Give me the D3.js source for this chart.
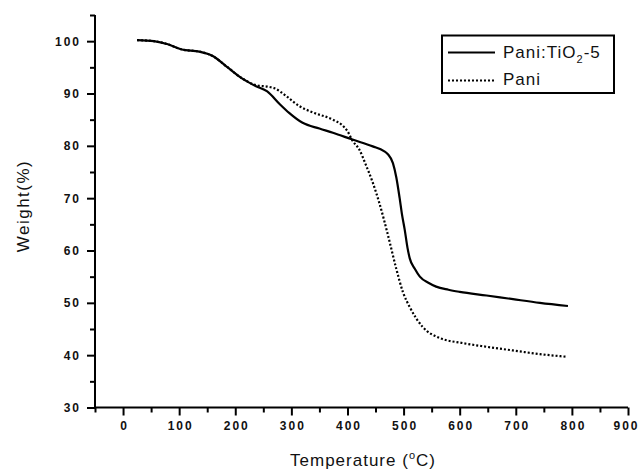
<!DOCTYPE html>
<html><head><meta charset="utf-8">
<script src="https://cdn.jsdelivr.net/npm/d3@7"></script>
<style>body{margin:0;background:#fff}svg{display:block}</style>
</head><body>
<svg id="c" width="640" height="469"></svg>
<script>
const seriesNames = ["Pani:TiO2-5", "Pani"];
const tempTiO2 = [25,55,80,105,136,159,184,212,237,257,279,296,320,350,374,409,445,465,472,481,487,493,497,502,507,511,520,529,545,558,580,600,648,695,743,793];
const weightTiO2 = [100.2,100,99.4,98.4,98.0,97.2,95.2,92.9,91.4,90.4,88.0,86.3,84.4,83.3,82.5,81.2,79.9,79.0,78.4,76.7,74.0,70.0,67.0,64.0,60.5,58.5,56.5,55.0,53.8,53.1,52.5,52.1,51.4,50.7,50.0,49.4];
const tempPani = [25,55,80,105,136,159,184,212,237,258,270,291,314,338,374,390,400,409,421,433,445,457,472,487,499,511,534,564,606,648,695,743,790];
const weightPani = [100.2,100,99.4,98.4,98.0,97.2,95.2,92.9,91.6,91.3,91.0,89.5,87.6,86.4,85.0,84.0,82.8,81.0,79.3,76.3,73.0,69.0,63.0,56.5,52.0,49.2,45.4,43.3,42.3,41.6,40.9,40.2,39.7];
const xTicks = [0,100,200,300,400,500,600,700,800,900];
const yTicks = [30,40,50,60,70,80,90,100];

const svg = d3.select("#c");
const x = d3.scaleLinear().domain([-50, 900]).range([95, 628]);
const y = d3.scaleLinear().domain([30, 105]).range([407.5, 15]);
const font = "'Liberation Sans', Arial, sans-serif";

const xMinor = d3.range(-50, 901, 50).filter(v => v % 100 !== 0);
const yMinor = d3.range(35, 106, 10);

const xAxis = svg.append("g").attr("transform", `translate(0,${y(30)})`)
  .call(d3.axisBottom(x).tickValues(xTicks).tickSize(8).tickPadding(6).tickFormat(d3.format("d")));
svg.append("g").attr("transform", `translate(0,${y(30)})`)
  .call(d3.axisBottom(x).tickValues(xMinor).tickSize(5).tickFormat(""))
  .call(g => g.select(".domain").remove());
const yAxis = svg.append("g").attr("transform", `translate(${x(-50)},0)`)
  .call(d3.axisLeft(y).tickValues(yTicks).tickSize(8).tickPadding(6).tickFormat(d3.format("d")));
svg.append("g").attr("transform", `translate(${x(-50)},0)`)
  .call(d3.axisLeft(y).tickValues(yMinor).tickSize(5).tickFormat(""))
  .call(g => g.select(".domain").remove());

svg.selectAll(".domain").attr("stroke", "#000").attr("stroke-width", 2);
svg.selectAll(".tick line").attr("stroke", "#000").attr("stroke-width", 2);
svg.selectAll(".tick text").attr("font-family", font).attr("font-size", 12)
  .attr("font-weight", "bold").attr("fill", "#111").attr("letter-spacing", 2);
xAxis.selectAll(".tick text").attr("dx", d => d === 900 ? -2 : 1);
xAxis.select(".domain").attr("d", `M${x(-50)},0H${x(900)}`);
yAxis.select(".domain").attr("d", `M0,${y(30)}V${y(105)}`);

const line = d3.line().x(d => x(d[0])).y(d => y(d[1])).curve(d3.curveMonotoneX);
const dTi = tempTiO2.map((t, i) => [t, weightTiO2[i]]);
const dPa = tempPani.map((t, i) => [t, weightPani[i]]);

svg.append("path").datum(dPa).attr("d", line).attr("fill", "none")
  .attr("stroke", "#000").attr("stroke-width", 2.2).attr("stroke-dasharray", "2,2");
svg.append("path").datum(dTi).attr("d", line).attr("fill", "none")
  .attr("stroke", "#000").attr("stroke-width", 2.2);

// axis titles
svg.append("text").attr("x", 363).attr("y", 466).attr("text-anchor", "middle")
  .attr("font-family", font).attr("font-size", 17).attr("letter-spacing", 1).attr("fill", "#111")
  .call(t => {
    t.append("tspan").text("Temperature (");
    t.append("tspan").attr("dy", -7).attr("font-size", 11).text("o");
    t.append("tspan").attr("dy", 7).text("C)");
  });
svg.append("text").attr("transform", "translate(29,206) rotate(-90)").attr("text-anchor", "middle")
  .attr("font-family", font).attr("font-size", 17).attr("letter-spacing", 1.5).attr("fill", "#111").text("Weight(%)");

// legend
const lg = svg.append("g");
lg.append("rect").attr("x", 442).attr("y", 35.5).attr("width", 172).attr("height", 57.5)
  .attr("fill", "#fff").attr("stroke", "#000").attr("stroke-width", 2);
lg.append("line").attr("x1", 448).attr("x2", 495).attr("y1", 52.5).attr("y2", 52.5)
  .attr("stroke", "#000").attr("stroke-width", 2);
lg.append("line").attr("x1", 448).attr("x2", 495).attr("y1", 80.5).attr("y2", 80.5)
  .attr("stroke", "#000").attr("stroke-width", 2).attr("stroke-dasharray", "2,2");
lg.append("text").attr("x", 503).attr("y", 58).attr("font-family", font).attr("font-size", 17)
  .attr("fill", "#111").attr("letter-spacing", 1)
  .call(t => {
    t.append("tspan").text("Pani:TiO");
    t.append("tspan").attr("dy", 5).attr("font-size", 11).text("2");
    t.append("tspan").attr("dy", -5).text("-5");
  });
lg.append("text").attr("x", 503).attr("y", 85).attr("font-family", font).attr("font-size", 17)
  .attr("fill", "#111").attr("letter-spacing", 1).text(seriesNames[1]);
</script>
</body></html>
